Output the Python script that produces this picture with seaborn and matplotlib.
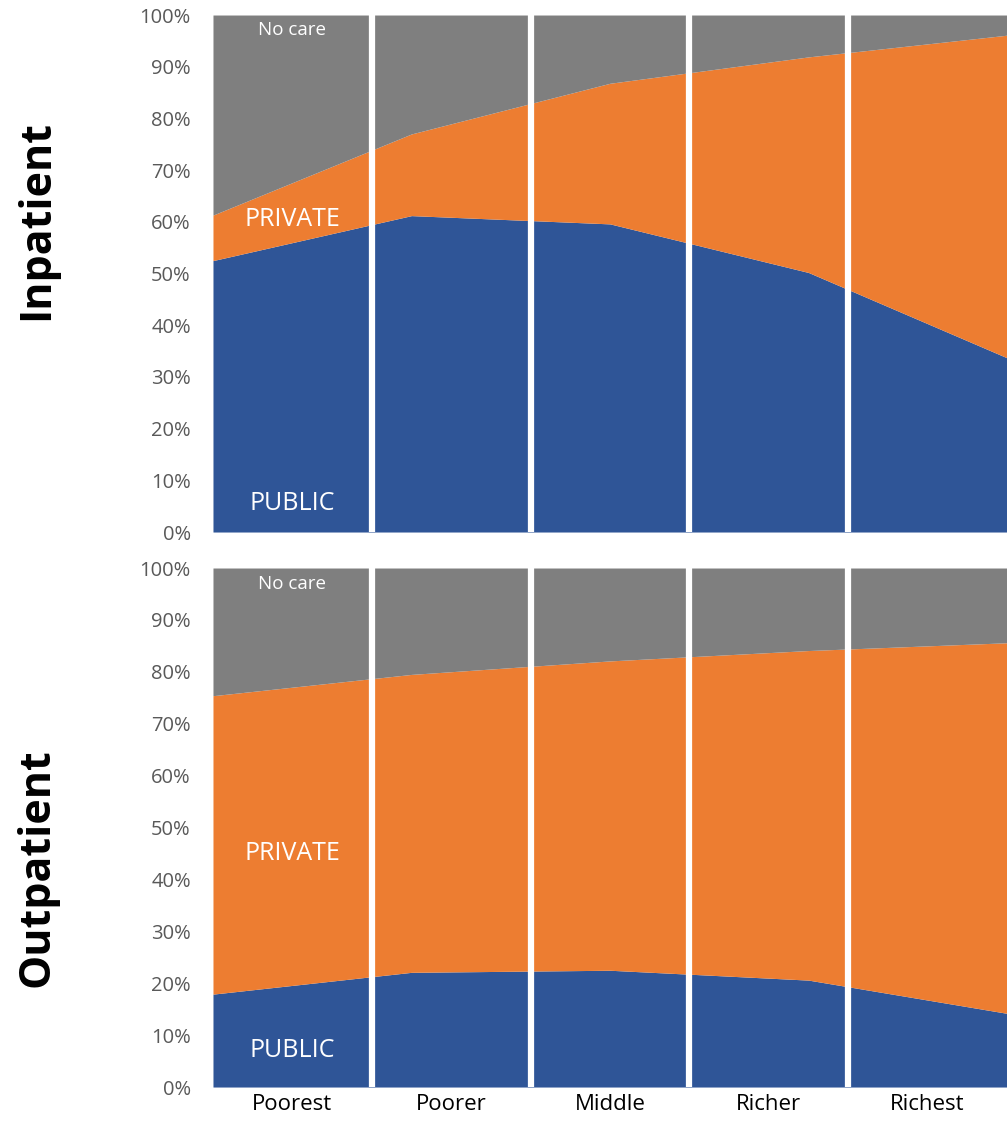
import numpy as np
import matplotlib
matplotlib.use("Agg")
import matplotlib.pyplot as plt
import seaborn as sns

sns.set_style("white")
plt.rcParams['font.family'] = ['Open Sans', 'DejaVu Sans']

# Dados (percentuais)
quintis = ["Poorest", "Poorer", "Middle", "Richer", "Richest"]
inpat_public = [52.5, 61.2, 59.6, 50.2, 33.7]
inpat_total = [61.3, 77.0, 86.8, 91.9, 96.1]   # public + private
outpat_public = [17.9, 22.1, 22.5, 20.6, 14.2]
outpat_total = [75.4, 79.5, 82.1, 84.1, 85.6]  # public + private

cores = ["#2F5597", "#ED7D31", "#7F7F7F"]

fig = plt.figure(figsize=(10.07, 11.21), dpi=100)
ax1 = fig.add_axes([0.2115, 0.5254, 0.7885, 0.4612])
ax2 = fig.add_axes([0.2115, 0.0303, 0.7885, 0.4630])


def painel(ax, public, total, pos_labels, mostra_x):
    public = np.array(public)
    total = np.array(total)
    private = total - public
    nocare = 100 - total
    x = np.arange(len(quintis))
    ax.stackplot(x, public, private, nocare, colors=cores, linewidth=0)
    ax.set_xlim(0, len(quintis) - 1)
    ax.set_ylim(0, 100)

    # separadores brancos entre categorias
    largura = (len(quintis) - 1) / len(quintis)
    for k in range(1, len(quintis)):
        ax.axvline(k * largura, color="white", lw=4.5)

    ax.set_yticks(np.arange(0, 101, 10))
    ax.set_yticklabels([f"{v}%" for v in range(0, 101, 10)], fontsize=14.5, color="#595959")
    ax.tick_params(axis="y", length=0, pad=16)
    centros = [largura / 2 + k * largura for k in range(len(quintis))]
    ax.set_xticks(centros)
    if mostra_x:
        ax.set_xticklabels(quintis, fontsize=16, color="black")
    else:
        ax.set_xticklabels([])
    ax.tick_params(axis="x", length=0, pad=5)
    for s in ax.spines.values():
        s.set_visible(False)

    xl = largura / 2
    ax.text(xl, pos_labels[0], "No care", color="white", fontsize=13.5, ha="center", va="center")
    ax.text(xl, pos_labels[1], "PRIVATE", color="white", fontsize=18, ha="center", va="center")
    ax.text(xl, pos_labels[2], "PUBLIC", color="white", fontsize=18, ha="center", va="center")


painel(ax1, inpat_public, inpat_total, (97.1, 60.5, 5.5), False)
painel(ax2, outpat_public, outpat_total, (97.0, 45.0, 7.0), True)

# Títulos das linhas
fig.text(37 / 1007, 1 - 220 / 1121, "Inpatient", rotation=90, fontsize=31,
         fontweight="bold", color="black", ha="center", va="center")
fig.text(37 / 1007, 1 - 868 / 1121, "Outpatient", rotation=90, fontsize=31,
         fontweight="bold", color="black", ha="center", va="center")

fig.savefig("out.png", dpi=100)
